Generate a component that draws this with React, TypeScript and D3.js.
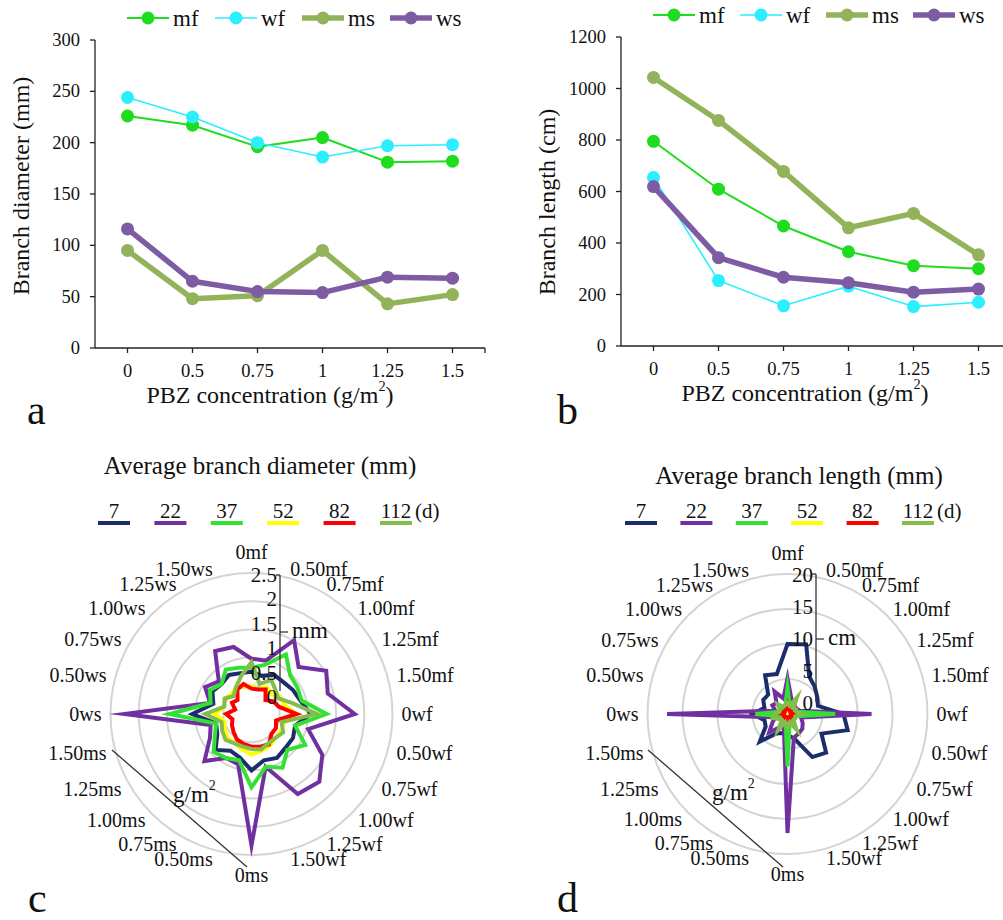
import React from 'react';
import * as d3 from 'd3';

// ---------- Data: panels a & b ----------
const concentrations = ['0', '0.5', '0.75', '1', '1.25', '1.5'];
const lineSeries = ['mf', 'wf', 'ms', 'ws'];
const diamMf = [226, 217, 196, 205, 181, 182];
const diamWf = [244, 225, 200, 186, 197, 198];
const diamMs = [95, 48, 51, 95, 43, 52];
const diamWs = [116, 65, 55, 54, 69, 68];
const lenMf = [795, 609, 466, 366, 312, 300];
const lenWf = [654, 254, 156, 232, 153, 170];
const lenMs = [1043, 876, 678, 459, 515, 354];
const lenWs = [619, 343, 267, 246, 209, 221];
const diamTicks = [0, 50, 100, 150, 200, 250, 300];
const lenTicks = [0, 200, 400, 600, 800, 1000, 1200];

// ---------- Data: panels c & d ----------
const radarCategories = ['0mf', '0.50mf', '0.75mf', '1.00mf', '1.25mf', '1.50mf',
  '0wf', '0.50wf', '0.75wf', '1.00wf', '1.25wf', '1.50wf',
  '0ms', '0.50ms', '0.75ms', '1.00ms', '1.25ms', '1.50ms',
  '0ws', '0.50ws', '0.75ws', '1.00ws', '1.25ws', '1.50ws'];
const days = ['7', '22', '37', '52', '82', '112'];

const diam7 = [0.75, 0.70, 0.80, 0.80, 0.85, 0.90, 1.05, 0.80, 0.85, 0.85, 0.90, 0.85, 1.00, 0.80, 0.75, 0.90, 0.70, 0.65, 1.05, 0.70, 0.80, 0.75, 0.80, 0.75];
const diam22 = [0.98, 0.98, 1.51, 1.18, 1.53, 1.40, 1.83, 1.04, 1.45, 1.70, 1.64, 0.97, 2.33, 0.92, 0.90, 1.18, 0.85, 0.75, 2.25, 0.76, 0.95, 0.82, 1.29, 1.23];
const diam37 = [0.82, 0.90, 1.22, 0.97, 0.94, 0.92, 1.33, 0.80, 1.10, 0.90, 1.10, 0.97, 1.30, 0.85, 0.90, 0.95, 0.75, 0.65, 1.45, 0.75, 0.85, 0.75, 0.91, 0.85];
const diam52 = [0.50, 0.45, 0.55, 0.50, 0.60, 0.60, 0.80, 0.60, 0.60, 0.60, 0.65, 0.68, 0.72, 0.65, 0.60, 0.60, 0.55, 0.50, 0.65, 0.50, 0.55, 0.50, 0.55, 0.50];
const diam82 = [0.45, 0.45, 0.50, 0.35, 0.45, 0.50, 0.80, 0.45, 0.50, 0.50, 0.62, 0.60, 0.58, 0.55, 0.52, 0.45, 0.40, 0.35, 0.45, 0.30, 0.40, 0.35, 0.50, 0.55];
const diam112 = [0.92, 0.55, 0.70, 0.60, 0.55, 0.75, 1.16, 0.55, 0.65, 0.60, 0.60, 0.65, 0.62, 0.60, 0.60, 0.65, 0.60, 0.55, 0.82, 0.50, 0.55, 0.45, 0.55, 0.70];

const len7 = [10.0, 10.3, 6.2, 5.5, 4.9, 4.5, 8.0, 8.9, 5.6, 7.8, 7.1, 3.6, 3.0, 2.8, 3.2, 5.6, 3.6, 3.4, 5.0, 3.4, 4.0, 3.9, 6.4, 5.9];
const len22 = [5.1, 2.2, 1.8, 1.5, 1.5, 1.8, 12.0, 2.0, 2.5, 3.0, 3.2, 3.5, 17.0, 2.0, 2.2, 3.7, 2.5, 1.8, 17.2, 1.8, 2.5, 2.2, 3.7, 2.3];
const len37 = [3.7, 1.2, 1.0, 1.0, 1.2, 1.3, 6.8, 1.2, 1.0, 1.0, 1.2, 1.2, 7.5, 1.0, 1.0, 1.2, 1.3, 1.2, 4.6, 1.2, 1.0, 1.0, 1.2, 1.2];
const len52 = [0.6, 0.4, 0.5, 0.4, 0.5, 0.4, 0.7, 0.4, 0.5, 0.4, 0.5, 0.4, 0.6, 0.4, 0.5, 0.4, 0.5, 0.4, 0.6, 0.4, 0.5, 0.4, 0.5, 0.4];
const len82 = [1.3, 0.7, 0.6, 0.5, 0.6, 0.5, 0.8, 0.5, 0.6, 0.5, 0.7, 0.8, 1.0, 0.5, 0.6, 0.5, 0.6, 0.5, 0.8, 0.5, 0.6, 0.5, 0.6, 0.7];
const len112 = [1.6, 1.2, 2.7, 1.2, 1.4, 1.3, 2.1, 1.2, 1.3, 1.2, 2.6, 1.2, 1.8, 1.2, 2.6, 1.2, 1.4, 2.2, 1.8, 1.2, 1.3, 2.0, 1.2, 1.3];

const diamRadarTicks = [0, 0.5, 1, 1.5, 2, 2.5];
const lenRadarTicks = [0, 5, 10, 15, 20];

// ---------- Styles ----------
const FONT = 'Liberation Serif, Tinos, Times New Roman, DejaVu Serif, serif';
const lineColors: Record<string, string> = { mf: '#1fdc1f', wf: '#2beeff', ms: '#93b35a', ws: '#7d5ca3' };
const lineWidths: Record<string, number> = { mf: 2, wf: 1.6, ms: 5.5, ws: 5.5 };
const dayColors = ['#1c2d6c', '#7030a0', '#35e035', '#ffff00', '#ff0000', '#86bb4e'];

const txt = (size: number): React.CSSProperties => ({ fontFamily: FONT, fontSize: size, fill: '#111' });

type LineProps = {
  data: number[][]; ticks: number[]; left: number; right: number; top: number; bottom: number;
  yTitle: string; yTitleX: number; yTitleY: number; xTitleX: number; legendX: number[]; legendY: number;
  letter: string; letterX: number;
};

function SupTitle({ x, y, size }: { x: number; y: number; size: number }) {
  return (
    <text x={x} y={y} textAnchor="middle" dominantBaseline="central" style={txt(size)}>
      PBZ concentration (g/m<tspan style={{ fontSize: size * 0.6 }} dy={-9}>2</tspan><tspan dy={9}>)</tspan>
    </text>
  );
}

function LinePanel(p: LineProps) {
  const x = d3.scaleBand<string>().domain(concentrations).range([p.left, p.right]);
  const y = d3.scaleLinear().domain([0, p.ticks[p.ticks.length - 1]]).range([p.bottom, p.top]);
  const line = d3.line<number>().x((_, i) => (x(concentrations[i]) as number) + x.bandwidth() / 2).y(v => y(v));
  return (
    <g>
      <line x1={p.left} x2={p.left} y1={p.top} y2={p.bottom} stroke="#222" strokeWidth={1.3} />
      <line x1={p.left} x2={p.right} y1={p.bottom} y2={p.bottom} stroke="#222" strokeWidth={1.3} />
      {p.ticks.map(t => (
        <g key={t}>
          <line x1={p.left - 5} x2={p.left} y1={y(t)} y2={y(t)} stroke="#222" strokeWidth={1.3} />
          <text x={p.left - 15} y={y(t)} textAnchor="end" dominantBaseline="central" style={txt(18.5)}>{t}</text>
        </g>
      ))}
      {concentrations.map(c => {
        const cx = (x(c) as number) + x.bandwidth() / 2;
        return (
          <g key={c}>
            <line x1={cx} x2={cx} y1={p.bottom} y2={p.bottom + 5} stroke="#222" strokeWidth={1.3} />
            <text x={cx} y={p.bottom + 23} textAnchor="middle" dominantBaseline="central" style={txt(18.5)}>{c}</text>
          </g>
        );
      })}
      <line x1={p.right} x2={p.right} y1={p.bottom} y2={p.bottom + 5} stroke="#222" strokeWidth={1.3} />
      {lineSeries.map((s, si) => (
        <g key={s}>
          <path d={line(p.data[si]) as string} fill="none" stroke={lineColors[s]} strokeWidth={lineWidths[s]} strokeLinejoin="round" />
          {p.data[si].map((v, i) => (
            <circle key={i} cx={(x(concentrations[i]) as number) + x.bandwidth() / 2} cy={y(v)} r={6.5} fill={lineColors[s]} />
          ))}
        </g>
      ))}
      {lineSeries.map((s, si) => (
        <g key={s}>
          <line x1={p.legendX[si]} x2={p.legendX[si] + 42} y1={p.legendY} y2={p.legendY} stroke={lineColors[s]} strokeWidth={lineWidths[s]} />
          <circle cx={p.legendX[si] + 21} cy={p.legendY} r={6.5} fill={lineColors[s]} />
          <text x={p.legendX[si] + 46} y={p.legendY} dominantBaseline="central" style={txt(23)}>{s}</text>
        </g>
      ))}
      <text transform={`translate(${p.yTitleX},${p.yTitleY}) rotate(-90)`} textAnchor="middle" dominantBaseline="central" style={txt(24)}>{p.yTitle}</text>
      <SupTitle x={p.xTitleX} y={p.bottom + 47} size={24} />
      <text x={p.letterX} y={424} style={txt(42)}>{p.letter}</text>
    </g>
  );
}

type RadarProps = {
  cx: number; cy: number; R: number; max: number; ticks: number[]; series: number[][];
  title: string; titleX: number; titleY: number; legendStart: number; legendStep: number;
  axisX: number; axisTop: number; axisBottom: number; labelTop: number; labelBottom: number; unit: string; unitY: number;
  diagFrom: [number, number]; diagTo: [number, number]; gmX: number; gmY: number; letter: string; letterX: number;
};

function RadarPanel(p: RadarProps) {
  const r = d3.scaleLinear().domain([0, p.max]).range([0, p.R]);
  const n = radarCategories.length;
  const angle = (i: number) => (i * 2 * Math.PI) / n;
  const radial = d3.lineRadial<number>().angle((_, i) => angle(i)).radius(v => r(v)).curve(d3.curveLinearClosed);
  const tickY = d3.scaleLinear().domain([0, p.max]).range([p.labelBottom, p.labelTop]);
  const labelR = p.R + 9;
  return (
    <g>
      <text x={p.titleX} y={p.titleY} textAnchor="middle" dominantBaseline="central" style={txt(25)}>{p.title}</text>
      {days.map((d, i) => {
        const lx = p.legendStart + i * p.legendStep;
        return (
          <g key={d}>
            <line x1={lx} x2={lx + 32} y1={523} y2={523} stroke={dayColors[i]} strokeWidth={4} />
            <text x={lx + 16} y={511} textAnchor="middle" dominantBaseline="central" style={txt(21)}>{d}</text>
          </g>
        );
      })}
      <text x={p.legendStart + 5 * p.legendStep + 35} y={511} dominantBaseline="central" style={txt(21)}>(d)</text>
      <g transform={`translate(${p.cx},${p.cy})`}>
        {p.ticks.filter(t => t > 0).map(t => (
          <circle key={t} r={r(t)} fill="none" stroke="#d4d4d4" strokeWidth={2} />
        ))}
        {p.series.map((s, i) => (
          <path key={i} d={radial(s) as string} fill="none" stroke={dayColors[i]} strokeWidth={4} strokeLinejoin="miter" strokeMiterlimit={10} />
        ))}
      </g>
      {radarCategories.map((c, i) => {
        const a = angle(i);
        const sx = Math.sin(a);
        const cy0 = -Math.cos(a);
        const tx = p.cx + labelR * sx;
        let ty = p.cy + labelR * cy0;
        let anchor = 'middle';
        if (sx > 0.01) anchor = 'start';
        else if (sx < -0.01) anchor = 'end';
        else ty += cy0 < 0 ? -12 : 11;
        return (
          <text key={c} x={tx} y={ty} textAnchor={anchor} dominantBaseline="central" style={txt(20)}>{c}</text>
        );
      })}
      <line x1={p.axisX} x2={p.axisX} y1={p.axisTop} y2={p.axisBottom} stroke="#333" strokeWidth={1.3} />
      <line x1={p.axisX - 4} x2={p.axisX} y1={p.axisTop} y2={p.axisTop} stroke="#333" strokeWidth={1.3} />
      {p.ticks.map(t => (
        <text key={t} x={p.axisX - 3} y={tickY(t)} textAnchor="end" dominantBaseline="central" style={txt(21)}>{t}</text>
      ))}
      <line x1={p.axisX} x2={p.axisX + 8} y1={p.unitY} y2={p.unitY} stroke="#333" strokeWidth={1.3} />
      <text x={p.axisX + 12} y={p.unitY - 2} dominantBaseline="central" style={txt(23)}>{p.unit}</text>
      <line x1={p.diagFrom[0]} y1={p.diagFrom[1]} x2={p.diagTo[0]} y2={p.diagTo[1]} stroke="#333" strokeWidth={1.3} />
      <text x={p.gmX} y={p.gmY} dominantBaseline="central" style={txt(23)}>g/m<tspan style={{ fontSize: 14 }} dy={-9}>2</tspan></text>
      <text x={p.letterX} y={912} style={txt(42)}>{p.letter}</text>
    </g>
  );
}

export default function App() {
  return (
    <div style={{ position: 'absolute', left: 0, top: 0 }}>
      <svg width={1003} height={920} viewBox="0 0 1003 920" style={{ display: 'block', background: '#fff' }}>
        <rect width={1003} height={920} fill="#fff" />
        <LinePanel data={[diamMf, diamWf, diamMs, diamWs]} ticks={diamTicks} left={95} right={485} top={40} bottom={348}
          yTitle="Branch diameter (mm)" yTitleX={21} yTitleY={186} xTitleX={270} legendX={[127, 215, 302, 390]} legendY={18}
          letter="a" letterX={27} />
        <LinePanel data={[lenMf, lenWf, lenMs, lenWs]} ticks={lenTicks} left={621} right={1011} top={37} bottom={346}
          yTitle="Branch length (cm)" yTitleX={547} yTitleY={202} xTitleX={805} legendX={[653, 740, 826, 913]} legendY={15}
          letter="b" letterX={557} />
        <RadarPanel cx={251.5} cy={714} R={141} max={2.5} ticks={diamRadarTicks}
          series={[diam7, diam22, diam37, diam52, diam82, diam112]}
          title="Average branch diameter (mm)" titleX={260} titleY={465} legendStart={98} legendStep={56.4}
          axisX={280} axisTop={575} axisBottom={691} labelTop={575} labelBottom={697} unit="mm" unitY={632}
          diagFrom={[112, 750]} diagTo={[247, 867]} gmX={173} gmY={794} letter="c" letterX={28} />
        <RadarPanel cx={787.5} cy={714} R={140} max={20} ticks={lenRadarTicks}
          series={[len7, len22, len37, len52, len82, len112]}
          title="Average branch length (mm)" titleX={799} titleY={475} legendStart={625} legendStep={55.4}
          axisX={816} axisTop={574} axisBottom={702} labelTop={575} labelBottom={703} unit="cm" unitY={639}
          diagFrom={[648, 750]} diagTo={[783, 867]} gmX={712} gmY={792} letter="d" letterX={557} />
      </svg>
    </div>
  );
}
